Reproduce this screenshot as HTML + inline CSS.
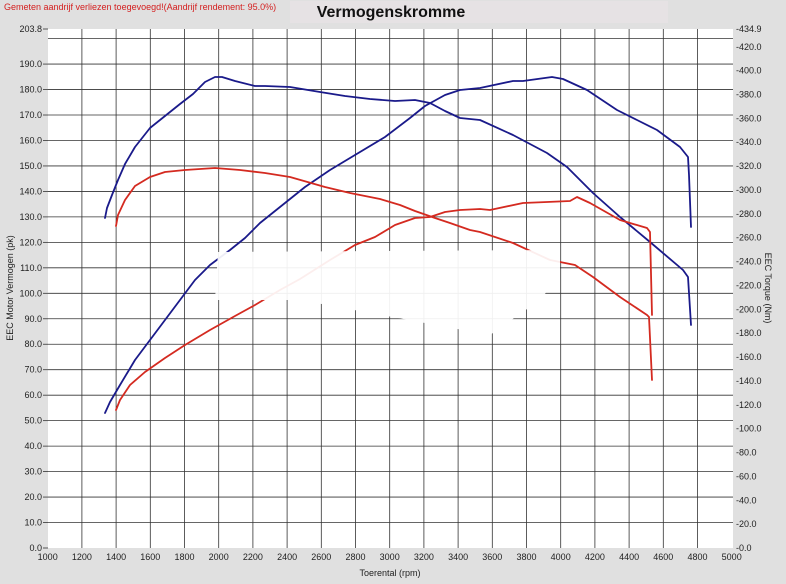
<!DOCTYPE html>
<html><head><meta charset="utf-8"><style>
html,body{margin:0;padding:0;background:#e0e0e0;}
svg{display:block;font-family:"Liberation Sans",Arial,sans-serif;}
</style></head><body>
<svg width="786" height="584" viewBox="0 0 786 584" xmlns="http://www.w3.org/2000/svg">
<rect width="786" height="584" fill="#e0e0e0"/>
<rect x="290" y="1" width="378" height="22" fill="#e6e2e4"/>
<text x="4" y="10" font-size="9" fill="#d42020">Gemeten aandrijf verliezen toegevoegd!(Aandrijf rendement: 95.0%)</text>
<text x="391" y="17" font-size="16" font-weight="bold" text-anchor="middle" fill="#111">Vermogenskromme</text>
<rect x="48" y="29" width="685" height="519" fill="#fff"/>
<g id="grid" stroke="#333" stroke-width="0.8"></g>
<g id="labels" font-size="9" fill="#222"></g>
<text transform="translate(13,288) rotate(-90)" font-size="9" text-anchor="middle" fill="#222">EEC Motor Vermogen (pk)</text>
<text transform="translate(765,288) rotate(90)" font-size="9" text-anchor="middle" fill="#222">EEC Torque (Nm)</text>
<text x="390" y="576" font-size="9" text-anchor="middle" fill="#222">Toerental (rpm)</text>
<g fill="none" stroke-width="1.8" stroke-linejoin="round" stroke-linecap="round">
<polyline stroke="#1a1a8a" points="105,218 107,208 112,195 118,180 125,164 135,147 150,128 165,116 180,104 193,94 205,82 215,77 222,77 235,81 255,86 265,86 290,87 320,92 345,96 370,99 395,101 415,100 430,103 445,111 460,118 480,120 513,135 547,153 567,167 593,193 620,217 650,242 683,270 688,277 691,325"/>
<polyline stroke="#1a1a8a" points="105,413 110,402 120,385 135,360 150,340 165,320 180,300 195,280 210,265 230,250 245,238 260,223 285,203 305,187 330,170 355,155 385,137 410,118 425,106 445,95 460,90 480,88 513,81 523,81 552,77 563,79 587,90 617,110 637,120 657,130 680,147 688,157 689,175 691,227"/>
<polyline stroke="#d42a20" points="116,226 118,215 125,200 135,186 150,177 165,172 185,170 215,168 240,170 265,173 290,177 325,187 350,193 380,199 400,205 415,211 435,218 450,223 470,230 480,232 513,243 550,260 575,265 593,277 620,297 647,315 649,317 652,380"/>
<polyline stroke="#d42a20" points="116,410 120,400 130,385 145,372 165,358 185,345 210,330 235,316 255,305 280,290 300,279 330,260 355,245 375,237 395,225 415,218 430,217 445,212 460,210 480,209 490,210 523,203 547,202 570,201 577,197 590,203 620,220 630,223 647,228 650,232 652,315"/>
</g>
<polygon fill="#fff" opacity="0.92" points="218,252 560,250 560,275 540,300 490,335 300,300 215,300"/>
</svg>
<script>
(function(){
var ns="http://www.w3.org/2000/svg";
var g=document.getElementById("grid"),L=document.getElementById("labels");
function ln(x1,y1,x2,y2){var e=document.createElementNS(ns,"line");e.setAttribute("x1",x1);e.setAttribute("y1",y1);e.setAttribute("x2",x2);e.setAttribute("y2",y2);g.appendChild(e);}
function tx(x,y,s,a){var e=document.createElementNS(ns,"text");e.setAttribute("x",x);e.setAttribute("y",y);e.setAttribute("text-anchor",a);e.textContent=s;L.appendChild(e);}
for(var r=1000;r<=5000;r+=200){var x=47.7+(r-1000)*0.171;if(r>1000&&r<5000)ln(x,29,x,548);tx(x,560,String(r),"middle");}
for(var v=10;v<=200;v+=10){var y=548-v*2.547;ln(48,y,733,y);}
for(var v=0;v<=190;v+=10){var y=548-v*2.547;tx(42,y+3,v.toFixed(1),"end");ln(43,y,48,y);}
tx(42,32,"203.8","end");ln(43,29,48,29);
for(var t=0;t<=420;t+=20){var y=548-t*1.1934;tx(736,y+3,"-"+t.toFixed(1),"start");}
tx(736,32,"-434.9","start");
})();
</script>
</body></html>
